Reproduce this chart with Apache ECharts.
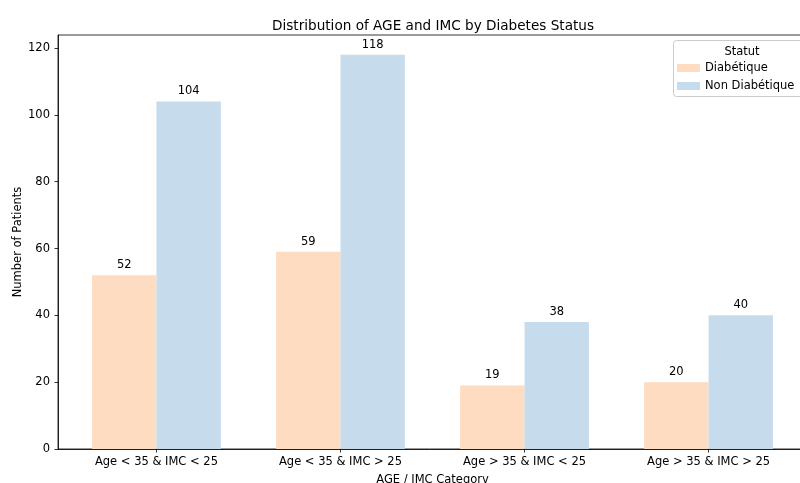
<!DOCTYPE html>
<html>
<head>
<meta charset="utf-8">
<script src="https://cdn.jsdelivr.net/npm/echarts@6/dist/echarts.min.js"></script>
<style>html,body{margin:0;padding:0;background:#fff}#c{width:800px;height:483px}</style>
</head>
<body>
<div id="c"></div>
<script>
const categories = ["Age < 35 & IMC < 25", "Age < 35 & IMC > 25", "Age > 35 & IMC < 25", "Age > 35 & IMC > 25"];
const diabetique = [52, 59, 19, 20];
const nonDiabetique = [104, 118, 38, 40];
const yTicks = [0, 20, 40, 60, 80, 100, 120];
const seriesNames = ["Diabétique", "Non Diabétique"];

const catIdx = categories.map((c, i) => i);
const barW = 0.35;
const font = "DejaVu Sans";
const fs = 11.5;

const chart = echarts.init(document.getElementById('c'), null, {renderer: 'canvas'});
const lbl = {show: true, position: 'top', distance: 4, fontFamily: font, fontSize: fs, color: '#000'};
chart.setOption({
  animation: false,
  backgroundColor: '#fff',
  title: [{
    text: 'Distribution of AGE and IMC by Diabetes Status',
    left: 428, top: 14, textAlign: 'center',
    textStyle: {fontFamily: font, fontSize: 13.6, fontWeight: 'normal', color: '#000'}
  }, {
    text: 'Statut', left: 737, top: 41, textAlign: 'center',
    textStyle: {fontFamily: font, fontSize: fs, fontWeight: 'normal', color: '#000'}
  }],
  graphic: [{
    type: 'rect', shape: {x: 673.5, y: 40.5, width: 140, height: 56, r: 3},
    style: {fill: 'rgba(255,255,255,0.8)', stroke: '#cccccc', lineWidth: 1}, z: 5
  }],
  legend: {
    orient: 'vertical', left: 677, top: 62, padding: 0, itemWidth: 23, itemHeight: 8, itemGap: 6,
    icon: 'rect', z: 10,
    textStyle: {fontFamily: font, fontSize: fs, color: '#000'},
    data: seriesNames
  },
  grid: {left: 58, top: 35, width: 749, height: 414, show: true, borderColor: '#000', borderWidth: 0.8,
    containLabel: false, outerBoundsMode: 'none'},
  xAxis: {
    type: 'value', min: -0.535, max: 3.535,
    name: 'AGE / IMC Category', nameLocation: 'middle', nameGap: 25, nameMoveOverlap: false,
    nameTextStyle: {fontFamily: font, fontSize: fs, color: '#000'},
    axisLine: {show: true, onZero: false, lineStyle: {color: '#000', width: 0.8}},
    axisTick: {show: true, length: 3.5, customValues: catIdx, lineStyle: {color: '#000', width: 0.8}},
    axisLabel: {customValues: catIdx, margin: 7, fontFamily: font, fontSize: fs, color: '#000',
      formatter: v => categories[Math.round(v)]},
    splitLine: {show: false}
  },
  yAxis: {
    type: 'value', min: 0, max: 123.9,
    name: 'Number of Patients', nameLocation: 'middle', nameGap: 34, nameRotate: 90, nameMoveOverlap: false,
    nameTextStyle: {fontFamily: font, fontSize: fs, color: '#000'},
    axisLine: {show: true, onZero: false, lineStyle: {color: '#000', width: 0.8}},
    axisTick: {show: true, length: 3.5, customValues: yTicks, lineStyle: {color: '#000', width: 0.8}},
    axisLabel: {customValues: yTicks, margin: 8, fontFamily: font, fontSize: fs, color: '#000'},
    splitLine: {show: false}
  },
  series: [{
    name: seriesNames[0], type: 'bar', barWidth: barW * 184, barGap: '-100%',
    itemStyle: {color: '#fedcc1'}, label: lbl,
    data: diabetique.map((v, i) => [i - barW / 2, v])
  }, {
    name: seriesNames[1], type: 'bar', barWidth: barW * 184, barGap: '-100%',
    itemStyle: {color: '#c6dbec'}, label: lbl,
    data: nonDiabetique.map((v, i) => [i + barW / 2, v])
  }]
});
</script>
</body>
</html>
